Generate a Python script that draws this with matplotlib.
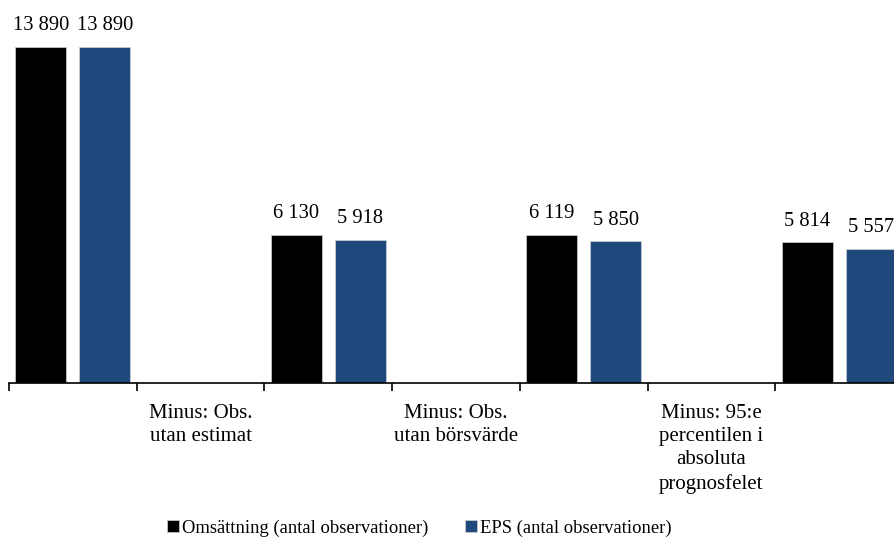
import numpy as np
import matplotlib.pyplot as plt

plt.rcParams['font.family'] = ['Liberation Serif', 'DejaVu Serif']

categories = ['', 'Minus: Obs.\nutan estimat', '', 'Minus: Obs.\nutan börsvärde', '',
              'Minus: 95:e\npercentilen i\nabsoluta\nprognosfelet', '']
omsattning = [13890, np.nan, 6130, np.nan, 6119, np.nan, 5814]
eps = [13890, np.nan, 5918, np.nan, 5850, np.nan, 5557]
series_names = ['Omsättning (antal observationer)', 'EPS (antal observationer)']
colors = ['#000000', '#1F497D']

def fmt(v):
    return f'{int(v):,}'.replace(',', ' ')

fig = plt.figure(figsize=(8.94, 5.39), dpi=100)
ax = fig.add_axes([9/894, 1 - 383/539, 894/894, 383/539])

x = np.arange(len(categories))
w = 0.4
for vals, off, c, name in zip([omsattning, eps], [-0.25, 0.25], colors, series_names):
    ax.bar(x + off, vals, w, color=c, edgecolor='#d0d0d0', linewidth=0.5, label=name)
    for xi, v in zip(x + off, vals):
        if not np.isnan(v):
            ax.text(xi, v + 480, fmt(v), ha='center', va='bottom', fontsize=14.8)

ax.set_xlim(-0.5, 6.5)
ax.set_ylim(0, 15830)
ax.set_yticks([])
for s in ['top', 'right', 'left']:
    ax.spines[s].set_visible(False)
ax.spines['bottom'].set_linewidth(1.2)

ax.set_xticks(x)
ax.set_xticklabels(categories, fontsize=15, linespacing=1.3, va='top')
ax.tick_params(axis='x', which='major', length=0, pad=15)
ax.set_xticks(np.arange(-0.5, 7, 1), minor=True)
ax.tick_params(axis='x', which='minor', length=6, width=1.2, direction='out')

fig.legend(loc='center', bbox_to_anchor=(0.469, 0.02), ncol=2, frameon=False,
           fontsize=13.4, handlelength=0.65, handleheight=0.65, handletextpad=0.16,
           columnspacing=2.0)

fig.savefig('out.png', dpi=100)
